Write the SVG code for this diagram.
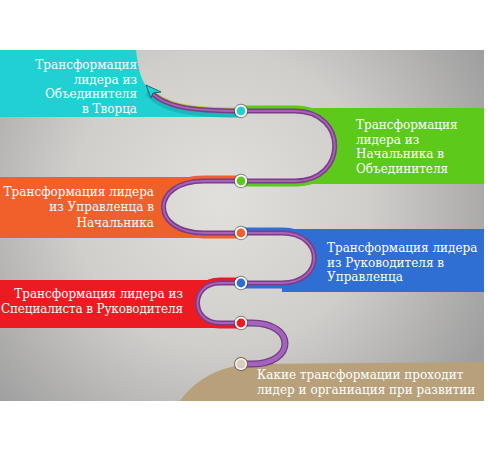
<svg xmlns="http://www.w3.org/2000/svg" width="488" height="450" viewBox="0 0 488 450">
  <defs>
    <radialGradient id="bg" gradientUnits="userSpaceOnUse" cx="220" cy="200" r="300">
      <stop offset="0" stop-color="#e2e0dc"/>
      <stop offset="0.5" stop-color="#d0cecb"/>
      <stop offset="1" stop-color="#9f9f9f"/>
    </radialGradient>
    <style>
      .t { font-family: "DejaVu Serif", "Liberation Serif", serif; font-size: 12px; fill: #ffffff; }
      .r { text-anchor: end; }
      .pl { fill: none; stroke: #7a3d88; stroke-width: 5; }
      .ph { fill: none; stroke: #a863b6; stroke-width: 1.8; }
      .bs { fill: none; stroke-width: 11; }
      .in { stroke: none; fill: url(#bg); }
      .dot-o { fill: #3b3b3b; opacity: 0.55; }
      .dot-w { fill: #ffffff; }
    </style>
  </defs>

  <rect x="0" y="0" width="488" height="450" fill="#ffffff"/>
  <rect id="background" x="0" y="50" width="484" height="351" fill="url(#bg)"/>

  <g id="node-tvorets">
    <path d="M0,50 H136 C138,66 140,80 148,88 C162,106 190,111 241,111 L241,117 H0 Z" fill="#21d0d3"/>
    <text class="t r" x="137" y="69">Трансформация</text>
    <text class="t r" x="137" y="84">лидера из</text>
    <text class="t r" x="137" y="98">Объединителя</text>
    <text class="t r" x="137" y="113">в Творца</text>
  </g>

  <g id="node-obedinitel">
    <rect x="295" y="108" width="189" height="76" fill="#5dc91b"/>
    <text class="t" x="356" y="129">Трансформация</text>
    <text class="t" x="356" y="144">лидера из</text>
    <text class="t" x="356" y="158">Начальника в</text>
    <text class="t" x="356" y="173">Объединителя</text>
  </g>

  <g id="node-nachalnik">
    <rect x="0" y="177" width="204" height="61" fill="#ef602b"/>
    <text class="t r" x="154" y="196">Трансформация лидера</text>
    <text class="t r" x="154" y="211">из Управленца в</text>
    <text class="t r" x="154" y="227">Начальника</text>
  </g>

  <g id="node-upravlenets">
    <rect x="282" y="229" width="202" height="63" fill="#2f6fd4"/>
    <text class="t" x="327" y="252">Трансформация лидера</text>
    <text class="t" x="327" y="267">из Руководителя в</text>
    <text class="t" x="327" y="281">Управленца</text>
  </g>

  <g id="node-rukovoditel">
    <rect x="0" y="280" width="220" height="48" fill="#ec1b22"/>
    <text class="t r" x="183" y="298">Трансформация лидера из</text>
    <text class="t" x="1" y="313" textLength="182">Специалиста в Руководителя</text>
  </g>

  <g id="node-start">
    <path d="M180,401 C192,384 214,366 252,364 L484,362 V401 Z" fill="#b8a07a"/>
    <text class="t" x="257" y="379" fill="#fbf6ec">Какие трансформации проходит</text>
    <text class="t" x="257" y="394" fill="#fbf6ec">лидер и органиация при развитии</text>
  </g>

  <g id="connectors">
    <path d="M149,90 C163,107 190,111 241,111" fill="none" stroke="#1bb8bb" stroke-width="9" transform="translate(0,2)"/>
    <path d="M149,90 C163,107 190,111 241,111" fill="none" stroke="#b6c83a" stroke-width="2" transform="translate(0,-2.5)"/>
    <path d="M149,90 C163,107 190,111 241,111" class="pl" stroke-width="3.5"/>
    <path d="M149,90 C163,107 190,111 241,111" class="ph" stroke-width="1.2"/>
    <polygon points="146,85 151,98 153,93 161,92" fill="#25d3d6" stroke="#0d6d70" stroke-width="1"/>

    <path d="M241,111 H295 C348,111 348,181 295,181 H241" class="bs" stroke="#5dc91b"/>
    <path d="M241,111 H295 C348,111 348,181 295,181 H241 Z" class="in"/>
    <path d="M241,111 H295 C348,111 348,181 295,181 H241" class="pl"/>
    <path d="M241,111 H295 C348,111 348,181 295,181 H241" class="ph"/>

    <path d="M241,181 H204 C150,181 150,233 204,233 H241" class="bs" stroke="#ef602b"/>
    <path d="M241,181 H204 C150,181 150,233 204,233 H241 Z" class="in"/>
    <path d="M241,181 H204 C150,181 150,233 204,233 H241" class="pl"/>
    <path d="M241,181 H204 C150,181 150,233 204,233 H241" class="ph"/>

    <path d="M241,233 H282 C325,233 325,283 282,283 H241" class="bs" stroke="#2f6fd4"/>
    <path d="M241,233 H282 C325,233 325,283 282,283 H241 Z" class="in"/>
    <path d="M241,233 H282 C325,233 325,283 282,283 H241" class="pl"/>
    <path d="M241,233 H282 C325,233 325,283 282,283 H241" class="ph"/>

    <path d="M241,283 H220 C190,283 190,323 220,323 H241" class="bs" stroke="#ec1b22"/>
    <path d="M241,283 H220 C190,283 190,323 220,323 H241 Z" class="in"/>
    <path d="M241,283 H220 C190,283 190,323 220,323 H241" class="pl"/>
    <path d="M241,283 H220 C190,283 190,323 220,323 H241" class="ph"/>

    <path d="M241,323 H252 C296,323 296,364 252,364 H241" fill="none" stroke="#6f3d80" stroke-width="7"/>
    <path d="M241,323 H252 C296,323 296,364 252,364 H241" fill="none" stroke="#a364bd" stroke-width="4.5"/>
  </g>

  <g id="points">
    <g id="p1"><circle cx="241" cy="111" r="7.2" class="dot-o"/><circle cx="241" cy="111" r="6.2" class="dot-w"/><circle cx="241" cy="111" r="4.4" fill="#22cfd3"/></g>
    <g id="p2"><circle cx="241" cy="181" r="7.2" class="dot-o"/><circle cx="241" cy="181" r="6.2" class="dot-w"/><circle cx="241" cy="181" r="4.4" fill="#5cc91a"/></g>
    <g id="p3"><circle cx="241" cy="233" r="7.2" class="dot-o"/><circle cx="241" cy="233" r="6.2" class="dot-w"/><circle cx="241" cy="233" r="4.4" fill="#ef602b"/></g>
    <g id="p4"><circle cx="241" cy="283" r="7.2" class="dot-o"/><circle cx="241" cy="283" r="6.2" class="dot-w"/><circle cx="241" cy="283" r="4.4" fill="#2f6fd4"/></g>
    <g id="p5"><circle cx="241" cy="323" r="7.2" class="dot-o"/><circle cx="241" cy="323" r="6.2" class="dot-w"/><circle cx="241" cy="323" r="4.4" fill="#ec1b22"/></g>
    <g id="p6"><circle cx="241" cy="364" r="7" fill="#7d6745"/><circle cx="241" cy="364" r="6" class="dot-w"/><circle cx="241" cy="364" r="4.6" fill="#d6cebf"/></g>
  </g>
</svg>
